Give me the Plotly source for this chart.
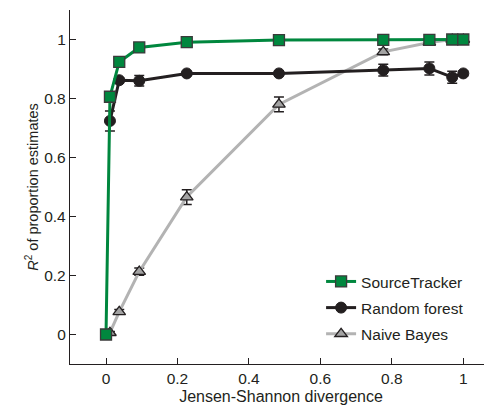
import plotly.graph_objects as go

# ---- data ----
x_st = [0.0, 0.011, 0.037, 0.093, 0.226, 0.484, 0.776, 0.905, 0.969, 1.0]
y_st = [0.0, 0.806, 0.924, 0.973, 0.991, 0.998, 0.999, 0.999, 1.0, 1.0]
e_st = [0.0, 0.005, 0.005, 0.004, 0.003, 0.002, 0.002, 0.002, 0.001, 0.001]

x_rf = [0.011, 0.037, 0.093, 0.226, 0.484, 0.776, 0.905, 0.969, 1.0]
y_rf = [0.724, 0.862, 0.860, 0.885, 0.885, 0.896, 0.902, 0.872, 0.885]
e_rf = [0.034, 0.008, 0.018, 0.006, 0.006, 0.020, 0.022, 0.020, 0.008]

x_nb = [0.011, 0.037, 0.093, 0.226, 0.484, 0.776, 0.905, 0.969, 1.0]
y_nb = [0.006, 0.077, 0.213, 0.466, 0.780, 0.958, 0.990, 1.0, 1.0]
e_nb = [0.004, 0.008, 0.012, 0.025, 0.025, 0.010, 0.008, 0.004, 0.002]

names = ["SourceTracker", "Random forest", "Naive Bayes"]
x_ticks = [0, 0.2, 0.4, 0.6, 0.8, 1]
y_ticks = [0, 0.2, 0.4, 0.6, 0.8, 1]

FONT = "Liberation Sans, Arial, Helvetica, sans-serif"
TXT = "#231f20"

fig = go.Figure()

fig.add_trace(go.Scatter(
    x=x_nb, y=y_nb, name=names[2], mode="lines+markers",
    legendgroup="c", legendrank=3,
    line=dict(color="#b3b3b3", width=3),
    marker=dict(symbol="triangle-up", size=11, color="#a3a3a3",
                line=dict(color="#231f20", width=1.3)),
    error_y=dict(type="data", array=e_nb, color="#231f20", thickness=1.5, width=5),
))
fig.add_trace(go.Scatter(
    x=x_rf, y=y_rf, name=names[1], mode="lines+markers",
    legendgroup="b", legendrank=2,
    line=dict(color="#231f20", width=3),
    marker=dict(symbol="circle", size=11, color="#231f20",
                line=dict(color="#231f20", width=1)),
    error_y=dict(type="data", array=e_rf, color="#231f20", thickness=1.5, width=5),
))
fig.add_trace(go.Scatter(
    x=x_st, y=y_st, name=names[0], mode="lines+markers",
    legendgroup="a", legendrank=1,
    line=dict(color="#00873e", width=3),
    marker=dict(symbol="square", size=11, color="#00873e",
                line=dict(color="#3a3a3a", width=1.3)),
    error_y=dict(type="data", array=e_st, color="#231f20", thickness=1.5, width=5),
))

# the page body has an 8px margin, so the figure is 484x400 placed at (8, 8)
fig.update_layout(
    width=484, height=400,
    margin=dict(l=62, r=0, t=2, b=44),
    paper_bgcolor="white", plot_bgcolor="white",
    font=dict(family=FONT, size=15.5, color=TXT),
    legend=dict(
        x=0.595, y=0.28, xanchor="left", yanchor="top",
        traceorder="grouped", tracegroupgap=3,
        bgcolor="rgba(0,0,0,0)", font=dict(size=15.5, color=TXT),
    ),
    showlegend=True,
)
fig.update_xaxes(
    range=[-0.1008, 1.0803], tickvals=x_ticks, ticks="inside", ticklen=6,
    tickwidth=1.3, tickcolor=TXT, showline=True, linecolor=TXT, linewidth=1.3,
    showgrid=False, zeroline=False, mirror=False,
    title=dict(text="Jensen-Shannon divergence", font=dict(size=16), standoff=5),
)
fig.update_yaxes(
    range=[-0.1, 1.1], tickvals=y_ticks, ticks="inside", ticklen=6,
    tickwidth=1.3, tickcolor=TXT, showline=True, linecolor=TXT, linewidth=1.3,
    showgrid=False, zeroline=False, mirror=False,
    title=dict(text="<i>R</i><sup>2</sup> of proportion estimates", font=dict(size=14.5), standoff=2),
)

fig.write_html("out.html")
